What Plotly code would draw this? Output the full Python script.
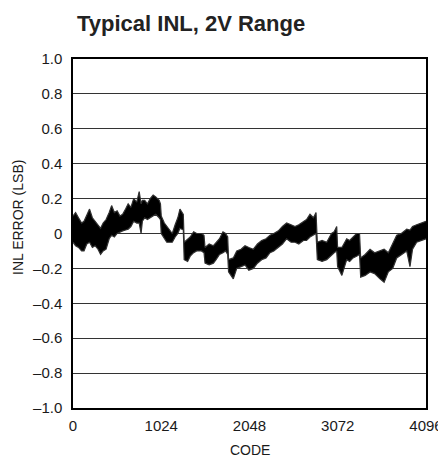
import plotly.graph_objects as go

# Envelope of the INL trace (code, upper, lower) in LSB
codes = [0, 30, 64, 100, 128, 160, 192, 225, 256, 290, 320, 350, 384, 420, 448, 480,
         512, 545, 576, 610, 640, 672, 704, 740, 768, 790, 805, 832, 864, 896, 930,
         960, 1000, 1015, 1024, 1060, 1088, 1120, 1152, 1185, 1216, 1241, 1280,
         1290, 1330, 1360, 1400, 1435, 1490, 1520, 1532, 1580, 1629, 1660, 1700,
         1740, 1770, 1795, 1805, 1860, 1900, 1950, 1996, 2040, 2093, 2140, 2189,
         2240, 2286, 2330, 2383, 2430, 2479, 2530, 2576, 2620, 2673, 2710, 2750,
         2790, 2820, 2835, 2890, 2944, 3000, 3030, 3060, 3070, 3120, 3176, 3210,
         3250, 3290, 3325, 3338, 3390, 3447, 3500, 3562, 3610, 3659, 3710, 3756,
         3810, 3872, 3910, 3940, 3988, 4040, 4096]
upper = [0.10, 0.12, 0.09, 0.06, 0.07, 0.11, 0.14, 0.09, 0.07, 0.05, 0.03, 0.06, 0.08,
         0.12, 0.16, 0.12, 0.13, 0.10, 0.11, 0.14, 0.17, 0.15, 0.20, 0.18, 0.24, 0.17,
         0.19, 0.19, 0.17, 0.20, 0.22, 0.21, 0.19, 0.17, 0.10, 0.06, 0.04, 0.02, 0.00,
         0.05, 0.09, 0.14, 0.11, -0.05, -0.03, -0.02, 0.01, 0.00, 0.00, -0.01, -0.08,
         -0.06, -0.07, -0.05, -0.03, 0.01, 0.00, -0.02, -0.15, -0.14, -0.10, -0.09,
         -0.07, -0.08, -0.09, -0.06, -0.04, -0.03, -0.01, 0.00, 0.015, 0.04, 0.06,
         0.05, 0.04, 0.05, 0.07, 0.08, 0.11, 0.09, 0.12, -0.05, -0.04, -0.05, 0.00,
         0.01, 0.04, -0.08, -0.08, -0.03, -0.04, -0.02, 0.00, 0.00, -0.14, -0.12,
         -0.09, -0.11, -0.10, -0.09, -0.11, -0.06, -0.01, 0.00, 0.025, 0.02, 0.04,
         0.05, 0.06, 0.07]
lower = [-0.05, -0.07, -0.08, -0.10, -0.10, -0.06, -0.05, -0.08, -0.07, -0.09, -0.12,
         -0.10, -0.09, -0.03, -0.01, -0.02, 0.00, 0.01, 0.015, 0.02, 0.025, 0.04,
         0.07, 0.06, 0.06, 0.00, 0.07, 0.09, 0.08, 0.09, 0.10, 0.11, 0.09, 0.08,
         0.00, -0.03, -0.05, -0.05, -0.05, -0.02, 0.00, 0.03, 0.02, -0.15, -0.16,
         -0.13, -0.11, -0.10, -0.10, -0.11, -0.17, -0.18, -0.17, -0.15, -0.12, -0.11,
         -0.10, -0.12, -0.22, -0.26, -0.20, -0.19, -0.18, -0.21, -0.20, -0.17, -0.15,
         -0.14, -0.11, -0.10, -0.08, -0.06, -0.03, -0.05, -0.05, -0.06, -0.04, -0.04,
         -0.02, -0.01, 0.00, -0.15, -0.16, -0.15, -0.12, -0.11, -0.10, -0.19, -0.24,
         -0.15, -0.16, -0.14, -0.13, -0.12, -0.25, -0.24, -0.22, -0.23, -0.26, -0.28,
         -0.22, -0.20, -0.14, -0.12, -0.10, -0.19, -0.09, -0.05, -0.04, -0.03]

y_ticks = [1.0, 0.8, 0.6, 0.4, 0.2, 0, -0.2, -0.4, -0.6, -0.8, -1.0]
y_tick_text = ["1.0", "0.8", "0.6", "0.4", "0.2", "0", "–0.2", "–0.4", "–0.6", "–0.8", "–1.0"]
x_ticks = [0, 1024, 2048, 3072, 4096]
x_tick_text = ["0", "1024", "2048", "3072", "4096"]

FONT = "Liberation Sans, Arial, sans-serif"

# The page body has an 8px margin, so the figure is drawn 8px in from the corner.
OFF = 8
W, H = 446 - OFF, 463 - OFF
PL, PR, PT, PB = 73 - OFF, 426 - OFF, 59 - OFF, 408 - OFF   # plot edges in figure px


def px(xr):
    return (xr - OFF - PL) / (PR - PL)


def py(yr):
    return (PB - (yr - OFF)) / (PB - PT)


fig = go.Figure()
fig.add_trace(go.Scatter(x=codes, y=lower, mode="lines",
                         line=dict(color="#303030", width=1.2), showlegend=False))
fig.add_trace(go.Scatter(x=codes, y=upper, mode="lines", fill="tonexty",
                         fillcolor="black",
                         line=dict(color="#303030", width=1.2), showlegend=False))

fig.update_layout(
    width=W, height=H,
    margin=dict(l=PL, r=W - PR, t=PT, b=H - PB),
    paper_bgcolor="white", plot_bgcolor="white",
    font=dict(family=FONT, size=15, color="#1a1a1a"),
    xaxis=dict(range=[0, 4096], tickvals=x_ticks, ticktext=x_tick_text,
               showgrid=False, zeroline=False, showline=True, mirror=True,
               linecolor="black", linewidth=1.5, ticks="", automargin=False,
               ticklabelstandoff=3, tickfont=dict(size=15)),
    yaxis=dict(range=[-1, 1], tickvals=y_ticks, ticktext=y_tick_text,
               showgrid=True, gridcolor="#333333", gridwidth=1,
               zeroline=False, showline=True, mirror=True,
               linecolor="black", linewidth=1.5, ticks="", automargin=False,
               ticklabelstandoff=6, tickfont=dict(size=15)),
    annotations=[
        dict(text="<b>Typical INL, 2V Range</b>", xref="paper", yref="paper",
             x=px(75), y=py(24), xanchor="left", yanchor="middle", showarrow=False,
             font=dict(family=FONT, size=22, color="#222222")),
        dict(text="CODE", xref="paper", yref="paper",
             x=0.5, y=py(450), xanchor="center", yanchor="middle",
             showarrow=False, font=dict(family=FONT, size=14, color="#1a1a1a")),
        dict(text="INL ERROR (LSB)", xref="paper", yref="paper", textangle=-90,
             x=px(18), y=py(218), xanchor="center", yanchor="middle",
             showarrow=False, font=dict(family=FONT, size=14, color="#1a1a1a")),
    ],
)

fig.write_html("out.html")
